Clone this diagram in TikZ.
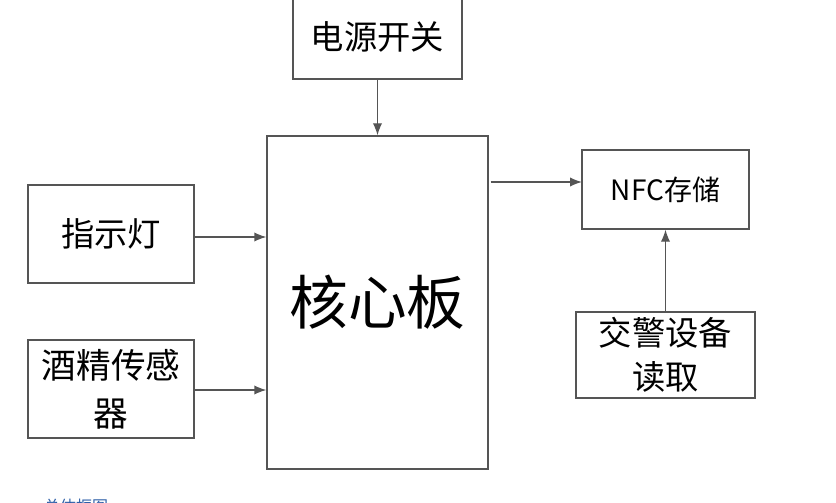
\documentclass[tikz,border=0pt]{standalone}
\usepackage{fontspec}
\newfontfamily\cjk{Noto Sans CJK SC}
\usepackage{tikz}
\usetikzlibrary{arrows.meta,calc,positioning}
\definecolor{boxgray}{HTML}{555555}
\definecolor{captionblue}{HTML}{2E5FA8}

\begin{document}
\begin{tikzpicture}[x=0.75pt,y=-0.75pt,>=Latex,
    blk/.style={draw=boxgray,line width=1pt,fill=white,inner sep=2pt,align=center,font=\cjk},
    arr/.style={->,boxgray,line width=1pt,>={Latex[length=9pt,width=7pt]}}]
  \clip (0,0) rectangle (836,503);
  \useasboundingbox (0,0) rectangle (836,503);
  % blocks
  \node[blk,minimum width=221*0.75pt,minimum height=333*0.75pt,font=\cjk\fontsize{44}{50}\selectfont] (core) at (377.5,302.5) {核心板};
  \node[blk,minimum width=169*0.75pt,minimum height=84*0.75pt,font=\cjk\fontsize{25}{30}\selectfont] (power) at (377.5,37) {电源开关};
  \node[blk,minimum width=166*0.75pt,minimum height=98*0.75pt,font=\cjk\fontsize{25}{30}\selectfont] (lamp) at (111,234) {指示灯};
  \node[blk,minimum width=166*0.75pt,minimum height=98*0.75pt,font=\cjk\fontsize{26}{36}\selectfont] (sensor) at (111,389) {酒精传感\\器};
  \node[blk,minimum width=167*0.75pt,minimum height=79*0.75pt,font=\cjk\fontsize{21}{26}\selectfont] (nfc) at (665.5,189.5) {NFC存储};
  \node[blk,minimum width=179*0.75pt,minimum height=86*0.75pt,font=\cjk\fontsize{25}{33}\selectfont] (police) at (665.5,355) {交警设备\\读取};
  % connectors
  \draw[arr] (power.south) -- (core.north);
  \draw[arr] (lamp.east |- 0,237) -- (core.west |- 0,237);
  \draw[arr] (sensor.east |- 0,390) -- (core.west |- 0,390);
  \coordinate (nfcin) at (582,182);
  \draw[arr] ([xshift=1.5pt]core.east |- nfcin) -- (nfcin);
  \draw[arr] (police.north) -- (nfc.south);
  % caption (cut off at the lower edge)
  \node[text=captionblue,font=\cjk\fontsize{12}{14}\selectfont] (cap) at (76,506) {总体框图};
\end{tikzpicture}
\end{document}
